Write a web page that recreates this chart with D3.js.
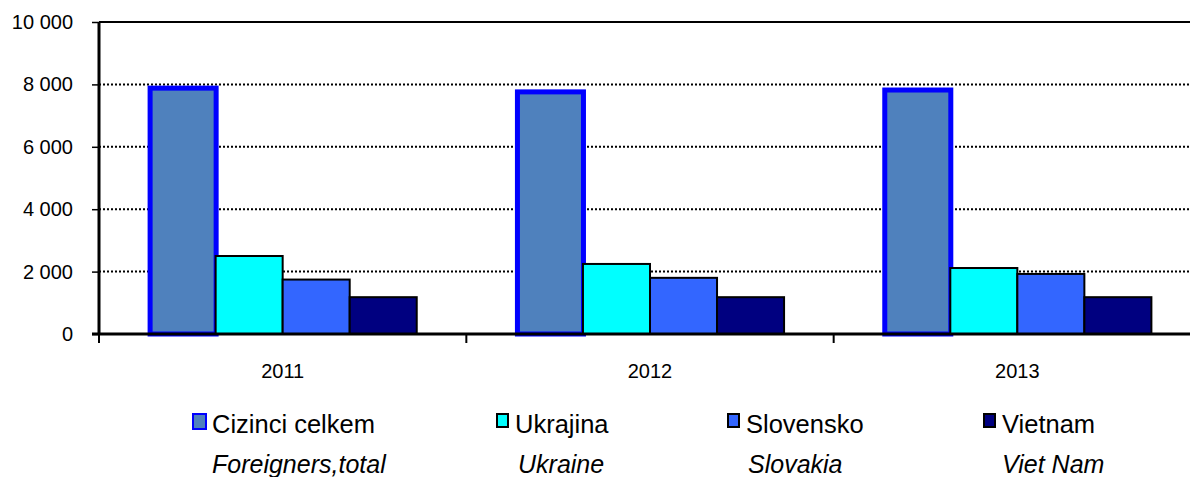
<!DOCTYPE html>
<html>
<head>
<meta charset="utf-8">
<script src="https://cdn.jsdelivr.net/npm/d3@7"></script>
<style>
  body { margin: 0; background: #fff; }
  svg { display: block; font-family: "Liberation Sans", Arial, sans-serif; }
</style>
</head>
<body>
<svg id="chart" width="1190" height="477"></svg>
<script>
// Chart data
const years = ["2011", "2012", "2013"];
const series = ["Cizinci celkem", "Ukrajina", "Slovensko", "Vietnam"];
const seriesEn = ["Foreigners,total", "Ukraine", "Slovakia", "Viet Nam"];
const cizinci = [7880, 7760, 7820];
const ukrajina = [2500, 2245, 2115];
const slovensko = [1745, 1800, 1925];
const vietnam = [1180, 1180, 1180];
const yTicks = [0, 2000, 4000, 6000, 8000, 10000];

const values = [cizinci, ukrajina, slovensko, vietnam];
const fills = ["#4F81BD", "#00FFFF", "#3366FF", "#000080"];
const strokes = ["#0000FF", "#000", "#000", "#000"];
const strokeW = [5, 2, 2, 2];

const svg = d3.select("#chart");
const margin = { left: 99, top: 22, bottom: 334, right: 1201 };

const x = d3.scaleBand().domain(years).range([margin.left, margin.right]);
const xInner = d3.scaleBand().domain(series).range([0, x.bandwidth()]).paddingOuter(0.74);
const y = d3.scaleLinear().domain([0, 10000]).range([margin.bottom, margin.top]);

const fmt = v => d3.format(",")(v).replace(",", " ");

// gridlines (top one is the solid plot border)
svg.append("g")
  .selectAll("line")
  .data(yTicks.filter(d => d > 0))
  .enter()
  .append("line")
  .attr("x1", margin.left)
  .attr("x2", 1190)
  .attr("y1", d => y(d))
  .attr("y2", d => y(d))
  .attr("stroke", "#000")
  .attr("stroke-width", 2)
  .attr("stroke-dasharray", d => d === 10000 ? null : "2,2");

// bars
const groups = svg.append("g")
  .selectAll("g")
  .data(years)
  .enter()
  .append("g")
  .attr("transform", d => `translate(${x(d)},0)`);

groups.selectAll("rect")
  .data((yr, i) => series.map((s, j) => ({ s, j, v: values[j][i] })))
  .enter()
  .append("rect")
  .attr("x", d => xInner(d.s) + (d.j === 0 ? 1.5 : 0))
  .attr("width", d => xInner.bandwidth() - (d.j === 0 ? 1 : 0))
  .attr("y", d => y(d.v))
  .attr("height", d => y(0) - y(d.v))
  .attr("fill", d => fills[d.j])
  .attr("stroke", d => strokes[d.j])
  .attr("stroke-width", d => strokeW[d.j]);

// y axis
const yAxis = d3.axisLeft(y).tickValues(yTicks).tickSize(7).tickPadding(19).tickFormat(fmt);
const gy = svg.append("g")
  .attr("transform", `translate(${margin.left},0)`)
  .call(yAxis);
gy.select(".domain").attr("stroke-width", 3).attr("d", `M0,${margin.top}V${margin.bottom}`);
gy.selectAll(".tick line").attr("stroke-width", 1.5);
gy.selectAll(".tick text").style("font-size", "20px").attr("fill", "#000");

// x axis
const xAxis = d3.axisBottom(x).tickSize(0).tickPadding(30);
const gx = svg.append("g")
  .attr("transform", `translate(0,${margin.bottom})`)
  .call(xAxis);
gx.select(".domain").attr("stroke-width", 3).attr("d", `M${margin.left - 7},0H1190`);
gx.selectAll(".tick text").style("font-size", "20px").attr("fill", "#000");

// category separators
svg.append("g")
  .selectAll("line")
  .data(years)
  .enter()
  .append("line")
  .attr("x1", d => x(d))
  .attr("x2", d => x(d))
  .attr("y1", margin.bottom)
  .attr("y2", margin.bottom + 9)
  .attr("stroke", "#000")
  .attr("stroke-width", 2);

// legend
const legendX = [192, 496, 727, 983];
const legendEnX = [212, 518, 748, 1002];
const legend = svg.append("g");
series.forEach((s, j) => {
  legend.append("rect")
    .attr("x", legendX[j] + 1)
    .attr("y", 414)
    .attr("width", j === 0 ? 13 : 11)
    .attr("height", j === 0 ? 15 : 13)
    .attr("fill", fills[j])
    .attr("stroke", j === 0 ? "#0000FF" : "#000")
    .attr("stroke-width", 2);
  legend.append("text")
    .attr("x", j === 0 ? 212 : legendX[j] + 19)
    .attr("y", 433)
    .style("font-size", "25.5px")
    .text(s);
  legend.append("text")
    .attr("x", legendEnX[j])
    .attr("y", 473)
    .style("font-size", "25px")
    .style("font-style", "italic")
    .text(seriesEn[j]);
});
</script>
</body>
</html>
